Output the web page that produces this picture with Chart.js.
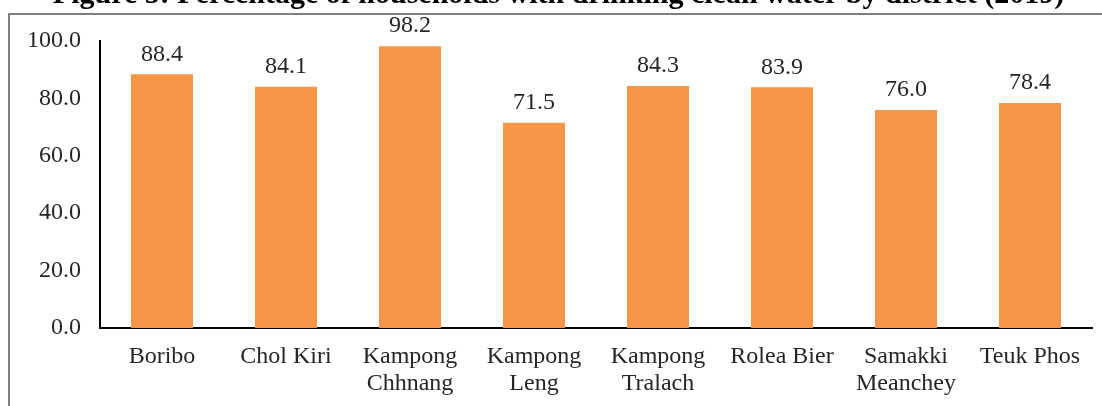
<!DOCTYPE html>
<html>
<head>
<meta charset="utf-8">
<script src="https://cdn.jsdelivr.net/npm/chart.js@4.4.1/dist/chart.umd.min.js"></script>
<style>
  html,body{margin:0;padding:0;background:#fff;overflow:hidden;}
  #wrap{position:absolute;left:0;top:-23px;width:1102px;height:429px;}
  #frame{position:absolute;left:8px;top:13px;right:-4px;bottom:-4px;border-top:2px solid #7f7f7f;border-left:2px solid #7f7f7f;pointer-events:none;}
</style>
</head>
<body>
<div id="wrap"><canvas id="c" width="1102" height="429"></canvas></div>
<div id="frame"></div>
<script>
  const titleText = 'Figure 5: Percentage of households with drinking clean water by district (2019)';
  const districts = [
    'Boribo', 'Chol Kiri', ['Kampong','Chhnang'], ['Kampong','Leng'],
    ['Kampong','Tralach'], 'Rolea Bier', ['Samakki','Meanchey'], 'Teuk Phos'
  ];
  const cleanWater = [88.4, 84.1, 98.2, 71.5, 84.3, 83.9, 76.0, 78.4];
  const yTicks = [0, 20, 40, 60, 80, 100];

  const serif = '"Liberation Serif", "Times New Roman", serif';

  // value labels above bars
  const valueLabels = {
    id:'valueLabels',
    afterDatasetsDraw(chart){
      const ctx = chart.ctx;
      const meta = chart.getDatasetMeta(0);
      ctx.save();
      ctx.font = '24px ' + serif;
      ctx.fillStyle = '#262626';
      ctx.textAlign = 'center';
      ctx.textBaseline = 'bottom';
      meta.data.forEach((bar, i)=>{
        ctx.fillText(cleanWater[i].toFixed(1), bar.x, bar.y - 8);
      });
      ctx.restore();
    }
  };

  new Chart(document.getElementById('c'), {
    type:'bar',
    data:{
      labels: districts,
      datasets:[{
        data: cleanWater,
        backgroundColor:'#F79646',
        borderWidth:0,
        categoryPercentage:1,
        barPercentage:0.5
      }]
    },
    options:{
      responsive:false,
      animation:false,
      layout:{padding:{left:25, right:10, top:0, bottom:0}},
      plugins:{
        legend:{display:false},
        tooltip:{enabled:false},
        title:{
          display:true,
          text:titleText,
          color:'#000',
          font:{family:serif, size:30, weight:'bold'},
          padding:{top:0, bottom:28}
        }
      },
      scales:{
        x:{
          grid:{display:false, drawTicks:false},
          border:{display:true, color:'#000', width:2},
          ticks:{color:'#262626', font:{family:serif, size:24, lineHeight:1.1}, padding:16, maxRotation:0, autoSkip:false},
          afterFit(axis){ axis.height = 78; }
        },
        y:{
          min:0, max:100,
          afterBuildTicks(axis){ axis.ticks = yTicks.map(v=>({value:v})); },
          grid:{display:false, drawTicks:false},
          border:{display:true, color:'#000', width:2},
          ticks:{color:'#262626', font:{family:serif, size:24}, padding:19,
            callback:v=>Number(v).toFixed(1)},
          afterFit(axis){ axis.width = 75; }
        }
      }
    },
    plugins:[valueLabels]
  });
</script>
</body>
</html>
